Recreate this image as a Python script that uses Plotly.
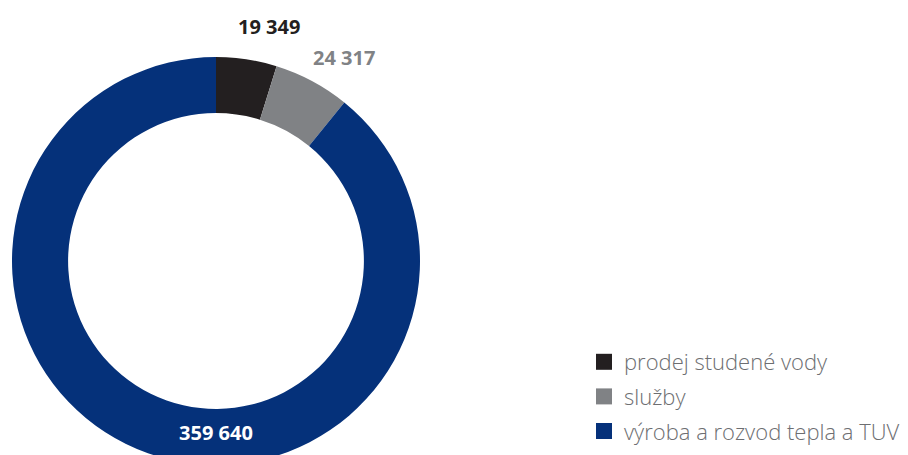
import math
import plotly.graph_objects as go

categories = ["prodej studené vody", "služby", "výroba a rozvod tepla a TUV"]
values = [19349, 24317, 359640]
value_labels = ["19 349", "24 317", "359 640"]
colors = ["#231f20", "#808285", "#05317a"]
label_colors = ["#231f20", "#808285", "#ffffff"]

W, H = 908, 522
CX, CY, R = 216, 261, 204  # donut centre / radius in pixels (layout only)

fig = go.Figure()
fig.add_trace(go.Pie(
    labels=categories,
    values=values,
    text=["", "", value_labels[2]],
    textinfo="text",
    textposition=["none", "none", "inside"],
    insidetextorientation="horizontal",
    textfont=dict(family="Open Sans", size=20, color=label_colors, weight="bold"),
    marker=dict(colors=colors, line=dict(width=0)),
    hole=0.725,
    sort=False,
    direction="clockwise",
    rotation=0,
    showlegend=False,
    hoverinfo="label+value",
    domain=dict(x=[(CX - R) / W, (CX + R) / W], y=[0, 1]),
))

# outside value labels for the two small slices, placed along each slice's mid-angle
total = sum(values)
cum = 0
for i, v in enumerate(values):
    mid = (cum + v / 2) / total * 360
    cum += v
    if i == 2:
        continue
    ang = math.radians(mid + 4)
    d = 240
    px = CX + d * math.sin(ang)
    py = CY - d * math.cos(ang)
    fig.add_annotation(
        x=px / W, y=1 - py / H, xref="paper", yref="paper",
        text="<b>%s</b>" % value_labels[i], showarrow=False,
        xanchor="center", yanchor="middle",
        font=dict(family="Open Sans", size=20, color=label_colors[i]),
    )

for i, (cat, col) in enumerate(zip(categories, colors)):
    fig.add_trace(go.Scatter(
        x=[None], y=[None], mode="markers", name=cat,
        marker=dict(symbol="square", size=16, color=col),
        legendgroup="g%d" % i, showlegend=True,
    ))

fig.update_layout(
    width=W, height=H,
    margin=dict(l=0, r=0, t=0, b=0),
    paper_bgcolor="white", plot_bgcolor="white",
    xaxis=dict(visible=False), yaxis=dict(visible=False),
    showlegend=True,
    legend=dict(
        x=584 / W, xanchor="left",
        y=1 - 341 / H, yanchor="top",
        font=dict(family="Open Sans", size=22, color="#6d6e71", weight=300),
        tracegroupgap=3,
        bgcolor="rgba(0,0,0,0)",
    ),
)

fig.write_html(
    "out.html",
    config={"displayModeBar": False},
    post_script="document.body.style.margin='0';document.body.style.overflow='hidden';document.documentElement.style.overflow='hidden';",
)
